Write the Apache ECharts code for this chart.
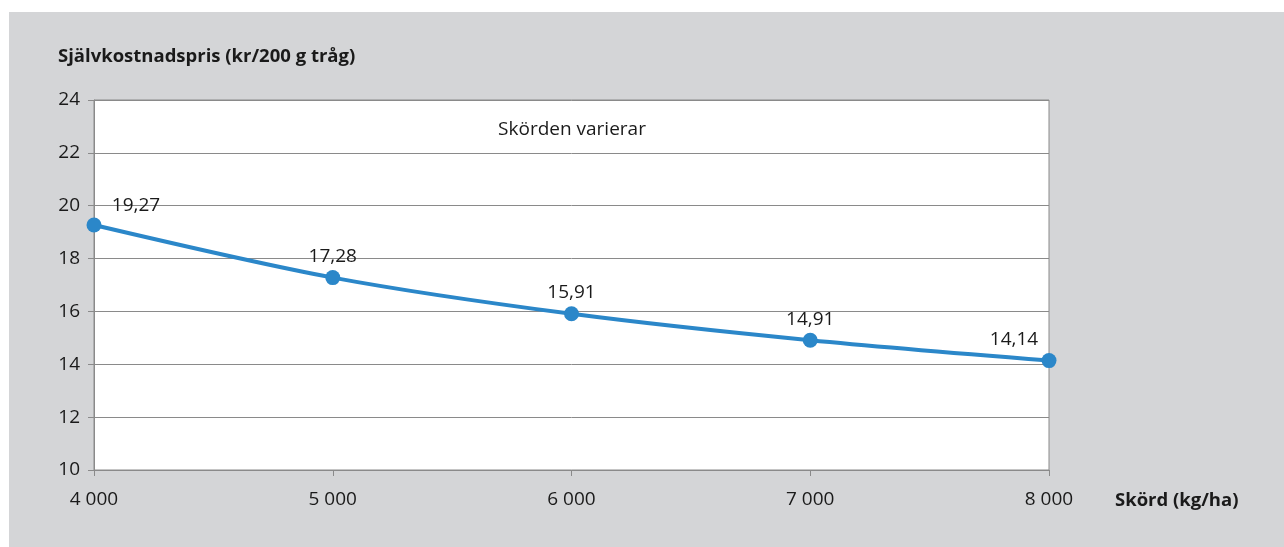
<!DOCTYPE html>
<html>
<head>
<meta charset="utf-8">
<script src="https://cdn.jsdelivr.net/npm/echarts@6/dist/echarts.min.js"></script>
<style>
  html, body { margin: 0; padding: 0; background: #ffffff; }
  #wrap {
    position: absolute;
    left: 9px;
    top: 12px;
    width: 1275px;
    height: 535px;
    background: #d4d5d7;
  }
  #main { width: 1275px; height: 535px; }
</style>
</head>
<body>
<div id="wrap"><div id="main"></div></div>
<script>
// data
var harvest = [4000, 5000, 6000, 7000, 8000];
var costPrice = [19.27, 17.28, 15.91, 14.91, 14.14];
var labelShift = [[42, 2], [0, 0], [0, 0], [0, 0], [-35, 0]];

var font = '"Open Sans", "Noto Sans", sans-serif';
var chart = echarts.init(document.getElementById("main"));

var points = harvest.map(function (x, i) {
  return {
    value: [x, costPrice[i]],
    label: { offset: labelShift[i] }
  };
});

var option = {
  animation: false,
  textStyle: { fontFamily: font },
  grid: {
    left: 85,
    top: 88,
    width: 955,
    height: 370,
    show: true,
    backgroundColor: "#ffffff",
    borderColor: "#8a8a8a",
    borderWidth: 1
  },
  graphic: [
    {
      type: "text",
      x: 49,
      y: 45,
      style: {
        text: "Självkostnadspris (kr/200 g tråg)",
        font: "bold 18.5px " + font,
        fill: "#1a1a1a",
        verticalAlign: "middle"
      }
    },
    {
      type: "text",
      x: 1106,
      y: 489,
      style: {
        text: "Skörd (kg/ha)",
        font: "bold 18.5px " + font,
        fill: "#1a1a1a",
        verticalAlign: "middle"
      }
    },
    {
      type: "text",
      x: 563,
      y: 118,
      style: {
        text: "Skörden varierar",
        font: "19px " + font,
        fill: "#1a1a1a",
        align: "center",
        verticalAlign: "middle"
      }
    }
  ],
  xAxis: {
    type: "value",
    min: 4000,
    max: 8000,
    interval: 1000,
    axisLine: { show: true, lineStyle: { color: "#8a8a8a" } },
    axisTick: { show: true, length: 6, lineStyle: { color: "#8a8a8a" } },
    splitLine: { show: false },
    axisLabel: {
      color: "#1a1a1a",
      fontSize: 19,
      margin: 20,
      formatter: function (v) {
        return String(v).replace(/\B(?=(\d{3})+(?!\d))/g, " ");
      }
    }
  },
  yAxis: {
    type: "value",
    min: 10,
    max: 24,
    interval: 2,
    axisLine: { show: true, lineStyle: { color: "#8a8a8a" } },
    axisTick: { show: true, length: 6, lineStyle: { color: "#8a8a8a" } },
    splitLine: { show: true, lineStyle: { color: "#8a8a8a", width: 1 } },
    axisLabel: { color: "#1a1a1a", fontSize: 19, margin: 14 }
  },
  series: [
    {
      type: "line",
      data: points,
      smooth: 0.3,
      symbol: "circle",
      symbolSize: 15,
      itemStyle: { color: "#2b87c9" },
      lineStyle: { color: "#2b87c9", width: 4 },
      label: {
        show: true,
        position: "top",
        distance: 4,
        color: "#1a1a1a",
        fontSize: 19,
        formatter: function (p) {
          return String(p.value[1].toFixed(2)).replace(".", ",");
        }
      }
    }
  ]
};

chart.setOption(option);
</script>
</body>
</html>
